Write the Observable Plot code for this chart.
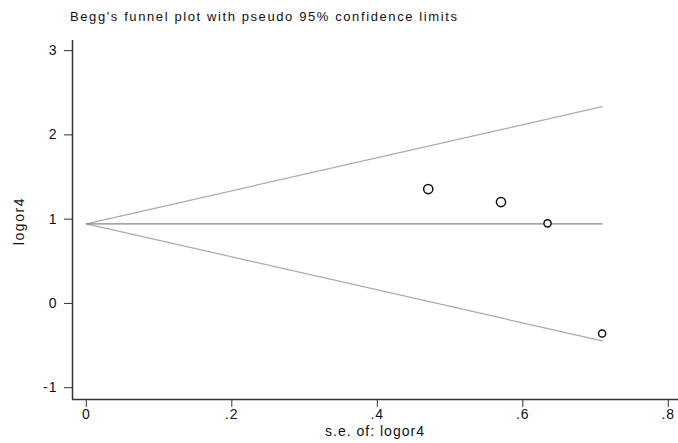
<!DOCTYPE html>
<html>
<head>
<meta charset="utf-8">
<script src="https://cdn.jsdelivr.net/npm/d3@7"></script>
<script src="https://cdn.jsdelivr.net/npm/@observablehq/plot@0.6"></script>
<style>
  html, body { margin: 0; padding: 0; background: #fff; }
  #wrap { position: relative; width: 678px; height: 443px; font-family: "Liberation Sans", Arial, sans-serif; color: #111; }
  #title { position: absolute; left: 70px; top: 10px; font-size: 13px; letter-spacing: 1.6px; white-space: nowrap; line-height: 1.1; }
  #xlabel { position: absolute; left: 375px; top: 431px; transform: translate(-50%, -50%); font-size: 14px; letter-spacing: 1px; white-space: nowrap; line-height: 1; }
  #ylabel { position: absolute; left: 19px; top: 221px; transform: translate(-50%, -50%) rotate(-90deg); font-size: 14px; letter-spacing: 1.6px; white-space: nowrap; line-height: 1; }
  svg { display: block; }
  .xax text, .yax text { letter-spacing: 1px; }
</style>
</head>
<body>
<div id="wrap"></div>
<script>
// Texts
const titleText = "Begg's funnel plot with pseudo 95% confidence limits";
const xLabelText = "s.e. of: logor4";
const yLabelText = "logor4";
// Study data
const se = [0.470, 0.570, 0.634, 0.709];
const logor = [1.357, 1.203, 0.950, -0.357];
// Pooled estimate and pseudo 95% limits
const pooled = 0.945;
const z = 1.96;
const seMax = 0.709;
// Tick values and labels
const xTicks = [0, 0.2, 0.4, 0.6, 0.8];
const xTickLabels = ["0", ".2", ".4", ".6", ".8"];
const yTicks = [-1, 0, 1, 2, 3];
const yTickLabels = ["-1", "0", "1", "2", "3"];

const points = se.map((s, i) => ({se: s, logor: logor[i]}));
const seLine = [0, seMax];
const upper = seLine.map(s => ({se: s, y: pooled + z * s}));
const lower = seLine.map(s => ({se: s, y: pooled - z * s}));
const mid = seLine.map(s => ({se: s, y: pooled}));

const chart = Plot.plot({
  width: 678,
  height: 443,
  marginLeft: 72,
  marginRight: 0,
  marginTop: 40,
  marginBottom: 44,
  style: {fontFamily: "Liberation Sans, Arial, sans-serif", fontSize: "14px", color: "#111", background: "#fff"},
  x: {domain: [-0.019, 0.814]},
  y: {domain: [-1.14, 3.12]},
  r: {type: "identity"},
  marks: [
    Plot.line(upper, {x: "se", y: "y", stroke: "#aaa", strokeWidth: 1.2}),
    Plot.line(lower, {x: "se", y: "y", stroke: "#aaa", strokeWidth: 1.2}),
    Plot.line(mid, {x: "se", y: "y", stroke: "#888", strokeWidth: 1.2}),
    Plot.dot(points, {x: "se", y: "logor", r: (d, i) => i < 2 ? 4.6 : 3.6, stroke: "#111", strokeWidth: 1.5, fill: "white"}),
    Plot.axisX({ticks: xTicks, tickFormat: d => xTickLabels[xTicks.indexOf(d)], tickSize: 8, tickPadding: 2, stroke: "#333",
      label: null, fontSize: 14, className: "xax"}),
    Plot.axisY({ticks: yTicks, tickFormat: d => yTickLabels[yTicks.indexOf(d)], tickSize: 8, tickPadding: 7, stroke: "#333",
      label: null, fontSize: 14, className: "yax"}),
    Plot.ruleX([-0.019], {stroke: "#333", strokeWidth: 1.5}),
    Plot.ruleY([-1.14], {stroke: "#333", strokeWidth: 1.5})
  ]
});
const wrap = document.getElementById("wrap");
wrap.appendChild(chart);
for (const [id, txt] of [["title", titleText], ["xlabel", xLabelText], ["ylabel", yLabelText]]) {
  const div = document.createElement("div");
  div.id = id;
  div.textContent = txt;
  wrap.appendChild(div);
}
</script>
</body>
</html>
